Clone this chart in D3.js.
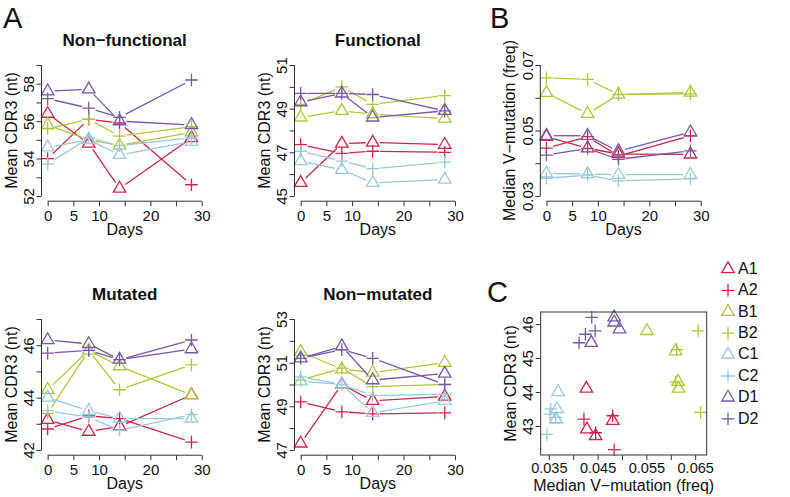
<!DOCTYPE html>
<html><head><meta charset="utf-8">
<script src="https://cdn.jsdelivr.net/npm/d3@7"></script>
<style>body{margin:0;background:#fff}svg{display:block;font-family:"Liberation Sans",Arial,Helvetica,sans-serif}</style>
</head><body><svg id="chart" width="790" height="497"></svg>
<script>
// ---------------- data ----------------
const days = [0, 8, 14, 28];
const seriesNames = ["A1", "A2", "B1", "B2", "C1", "C2", "D1", "D2"];
const seriesShapes = ["triangle", "cross", "triangle", "cross", "triangle", "cross", "triangle", "cross"];
const groupColors = {A: "#d3234b", B: "#adc93a", C: "#98c9e0", D: "#7c55ad"};

// Mean CDR3 (nt), one row per series (A1..D2), one value per day
const nonFunctional = [
  [56.4, 54.8, 52.4, 55.1],
  [54.0, 56.1, 55.9, 52.6],
  [55.8, 55.0, 54.7, 55.4],
  [55.6, 56.1, 55.2, 55.7],
  [54.6, 55.0, 54.2, 54.9],
  [53.7, 55.1, 54.7, 55.1],
  [57.6, 57.7, 56.0, 55.8],
  [57.2, 56.7, 56.2, 58.2]
];
const functional = [
  [45.6, 47.4, 47.45, 47.35],
  [47.35, 46.95, 47.05, 47.0],
  [48.6, 48.9, 48.75, 48.55],
  [49.2, 50.0, 49.2, 49.6],
  [46.6, 46.2, 45.6, 45.75],
  [47.05, 46.6, 46.25, 46.55],
  [49.3, 49.7, 48.6, 48.9],
  [49.7, 49.7, 49.65, 48.9]
];
const mutated = [
  [43.15, 42.7, 42.9, 44.1],
  [42.8, 43.3, 43.2, 42.3],
  [44.3, 45.8, 45.2, 44.1],
  [43.4, 45.8, 44.3, 45.25],
  [44.0, 43.5, 43.2, 43.2],
  [43.5, 43.25, 42.75, 43.35],
  [46.2, 46.05, 45.45, 45.85],
  [45.7, 45.8, 45.45, 46.2]
];
const nonMutated = [
  [47.3, 50.0, 49.25, 49.45],
  [49.2, 48.75, 48.65, 48.7],
  [51.5, 50.7, 50.55, 51.0],
  [50.2, 50.75, 49.9, 50.0],
  [50.15, 50.0, 48.7, 49.25],
  [50.35, 50.0, 49.5, 49.55],
  [51.2, 51.75, 50.2, 50.5],
  [51.2, 51.6, 51.2, 50.0]
];
// Median V-mutation (freq)
const vMutation = [
  [0.0481, 0.0446, 0.0428, 0.0427],
  [0.0446, 0.0481, 0.0422, 0.0484],
  [0.0615, 0.0551, 0.0610, 0.0616],
  [0.0661, 0.0656, 0.0610, 0.0612],
  [0.0369, 0.0367, 0.0365, 0.0365],
  [0.0354, 0.0364, 0.0346, 0.0352],
  [0.0484, 0.0484, 0.0437, 0.0495],
  [0.0425, 0.0445, 0.0412, 0.0438]
];

const dayTicks = [0, 5, 10, 15, 20, 25, 30];
const dayTickLabels = ["0", "5", "10", "", "20", "", "30"];
const nfTicks = [52, 53, 54, 55, 56, 57, 58, 59];
const nfTickLabels = ["52", "", "54", "", "56", "", "58", ""];
const fTicks = [45, 46, 47, 48, 49, 50, 51];
const fTickLabels = ["45", "", "47", "", "49", "", "51"];
const mutTicks = [42, 43, 44, 45, 46, 47];
const mutTickLabels = ["42", "", "44", "", "46", ""];
const nmTicks = [47, 48, 49, 50, 51, 52, 53];
const nmTickLabels = ["47", "", "49", "", "51", "", "53"];
const vTicks = [0.03, 0.04, 0.05, 0.06, 0.07];
const vTickLabels = ["0.03", "", "0.05", "", "0.07"];
const cxTicks = [0.035, 0.040, 0.045, 0.050, 0.055, 0.060, 0.065];
const cxTickLabels = ["0.035", "", "0.045", "", "0.055", "", "0.065"];
const cyTicks = [43, 44, 45, 46];
const cyTickLabels = ["43", "44", "45", "46"];

const panelTitles = ["Non\u2212functional", "Functional", "Mutated", "Non\u2212mutated"];
const yTitleCDR3 = "Mean CDR3 (nt)";
const yTitleV = "Median V\u2212mutation (freq)";
const xTitleDays = "Days";

// ---------------- drawing ----------------
const svg = d3.select("#chart");
const INK = "#333";
const colorOf = i => groupColors[seriesNames[i][0]];

function ext(lo, hi) { const d = (hi - lo) * 0.04; return [lo - d, hi + d]; }

function symbol(g, shape, x, y, color) {
  if (shape === "triangle") {
    const r = 7.2, xc = r * Math.sqrt(3) / 2, yc = r / 2;
    g.append("path").attr("d", `M${x},${y - r}L${x + xc},${y + yc}L${x - xc},${y + yc}Z`)
      .attr("fill", "none").attr("stroke", color).attr("stroke-width", 1.3);
  } else {
    const s = 6.3;
    g.append("path").attr("d", `M${x - s},${y}H${x + s}M${x},${y - s}V${y + s}`)
      .attr("fill", "none").attr("stroke", color).attr("stroke-width", 1.3);
  }
}

function styleAxis(g) {
  g.selectAll(".tick line").attr("stroke", INK).attr("stroke-width", 1);
  g.selectAll(".tick text").attr("fill", "#111").style("font-size", "15px")
    .style("font-family", '"Liberation Sans",Arial,sans-serif');
}

function yAxis(g, y, x0, ticks, labels) {
  const ax = g.append("g").attr("transform", `translate(${x0},0)`)
    .call(d3.axisLeft(y).tickValues(ticks).tickFormat((d, i) => labels[i]).tickSize(5).tickSizeOuter(0));
  ax.select(".domain").remove();
  ax.append("line").attr("x1", 0).attr("x2", 0).attr("y1", y(ticks[0])).attr("y2", y(ticks[ticks.length - 1]))
    .attr("stroke", INK);
  ax.selectAll(".tick text").attr("transform", "rotate(-90)").attr("x", 0).attr("y", -7.5)
    .attr("dy", 0).attr("text-anchor", "middle");
  styleAxis(ax);
}

function xAxis(g, x, y0, ticks, labels) {
  const ax = g.append("g").attr("transform", `translate(0,${y0})`)
    .call(d3.axisBottom(x).tickValues(ticks).tickFormat((d, i) => labels[i]).tickSize(5).tickPadding(4.5).tickSizeOuter(0));
  ax.select(".domain").remove();
  ax.append("line").attr("y1", 0).attr("y2", 0).attr("x1", x(ticks[0])).attr("x2", x(ticks[ticks.length - 1]))
    .attr("stroke", INK);
  styleAxis(ax);
}

function yTitle(g, text, x, cy) {
  g.append("text").attr("transform", `translate(${x},${cy}) rotate(-90)`).attr("text-anchor", "middle")
    .attr("dy", "0.35em").style("font-size", "16px").attr("fill", "#111").text(text);
}
function xTitle(g, text, cx, y) {
  g.append("text").attr("x", cx).attr("y", y).attr("text-anchor", "middle")
    .style("font-size", "16px").attr("fill", "#111").text(text);
}

function timePanel(rect, ylim, values, yt, ytl, title, yLabel) {
  const g = svg.append("g");
  const x = d3.scaleLinear().domain(ext(0, 30)).range([rect.l, rect.r]);
  const y = d3.scaleLinear().domain(ext(ylim[0], ylim[1])).range([rect.b, rect.t]);
  const gap = 7;
  values.forEach((vals, i) => {
    const col = colorOf(i);
    const pts = vals.map((v, j) => [x(days[j]), y(v)]);
    for (let j = 0; j < pts.length - 1; j++) {
      const [x1, y1] = pts[j], [x2, y2] = pts[j + 1];
      const len = Math.hypot(x2 - x1, y2 - y1);
      if (len <= 2 * gap) continue;
      const ux = (x2 - x1) / len, uy = (y2 - y1) / len;
      g.append("line").attr("x1", x1 + ux * gap).attr("y1", y1 + uy * gap)
        .attr("x2", x2 - ux * gap).attr("y2", y2 - uy * gap)
        .attr("stroke", col).attr("stroke-width", 1.3);
    }
    pts.forEach(([px, py]) => symbol(g, seriesShapes[i], px, py, col));
  });
  yAxis(g, y, rect.l, yt, ytl);
  xAxis(g, x, rect.b, dayTicks, dayTickLabels);
  if (title) g.append("text").attr("x", (rect.l + rect.r) / 2).attr("y", rect.t - 13.5)
    .attr("text-anchor", "middle").style("font-size", "17px").style("font-weight", "bold").attr("fill", "#111").text(title);
  yTitle(g, yLabel, rect.l - 30.5, (rect.t + rect.b) / 2);
  xTitle(g, xTitleDays, (rect.l + rect.r) / 2, rect.b + 33.5);
}

const topRow = {t: 59.8, b: 201.2}, botRow = {t: 313.8, b: 455.2};
const col1 = {l: 41.5, r: 207.9}, col2 = {l: 294.5, r: 461.2}, col3 = {l: 540.3, r: 706.9};

timePanel({...col1, ...topRow}, [52, 59], nonFunctional, nfTicks, nfTickLabels, panelTitles[0], yTitleCDR3);
timePanel({...col2, ...topRow}, [45, 51], functional, fTicks, fTickLabels, panelTitles[1], yTitleCDR3);
timePanel({...col1, ...botRow}, [42, 47], mutated, mutTicks, mutTickLabels, panelTitles[2], yTitleCDR3);
timePanel({...col2, ...botRow}, [47, 53], nonMutated, nmTicks, nmTickLabels, panelTitles[3], yTitleCDR3);
timePanel({...col3, ...topRow}, [0.03, 0.07], vMutation, vTicks, vTickLabels, null, yTitleV);

// Panel C: scatter of V-mutation vs mutated CDR3
(function () {
  const rect = {l: 540.7, r: 706.7, t: 312, b: 455};
  const g = svg.append("g");
  const allV = vMutation.flat(), allM = mutated.flat();
  const x = d3.scaleLinear().domain(ext(d3.min(allV), d3.max(allV))).range([rect.l, rect.r]);
  const y = d3.scaleLinear().domain(ext(d3.min(allM), d3.max(allM))).range([rect.b, rect.t]);
  vMutation.forEach((vals, i) => {
    vals.forEach((v, j) => symbol(g, seriesShapes[i], x(v), y(mutated[i][j]), colorOf(i)));
  });
  g.append("rect").attr("x", rect.l).attr("y", rect.t).attr("width", rect.r - rect.l).attr("height", rect.b - rect.t)
    .attr("fill", "none").attr("stroke", INK);
  const ay = g.append("g").attr("transform", `translate(${rect.l},0)`)
    .call(d3.axisLeft(y).tickValues(cyTicks).tickFormat((d, i) => cyTickLabels[i]).tickSize(5).tickSizeOuter(0));
  ay.select(".domain").remove();
  ay.selectAll(".tick text").attr("transform", "rotate(-90)").attr("x", 0).attr("y", -7.5).attr("dy", 0).attr("text-anchor", "middle");
  styleAxis(ay);
  const ax = g.append("g").attr("transform", `translate(0,${rect.b})`)
    .call(d3.axisBottom(x).tickValues(cxTicks).tickFormat((d, i) => cxTickLabels[i]).tickSize(5).tickPadding(2.5).tickSizeOuter(0));
  ax.select(".domain").remove();
  styleAxis(ax);
  ax.selectAll(".tick text").style("font-size", "14.5px");
  yTitle(g, yTitleCDR3, rect.l - 30.5, (rect.t + rect.b) / 2);
  xTitle(g, yTitleV, (rect.l + rect.r) / 2, rect.b + 35.5);
})();

// Panel letters
[["A", 3, 28], ["B", 490, 28], ["C", 487, 302]].forEach(([t, x, y]) =>
  svg.append("text").attr("x", x).attr("y", y).style("font-size", "29px").attr("fill", "#111").text(t));

// Legend
const legend = svg.append("g");
seriesNames.forEach((name, i) => {
  const ly = 268 + i * 21.4;
  symbol(legend, seriesShapes[i], 728, ly + 1, colorOf(i));
  legend.append("text").attr("x", 738).attr("y", ly).attr("dy", "0.36em").style("font-size", "16px")
    .attr("fill", "#111").text(name);
});
</script></body></html>
